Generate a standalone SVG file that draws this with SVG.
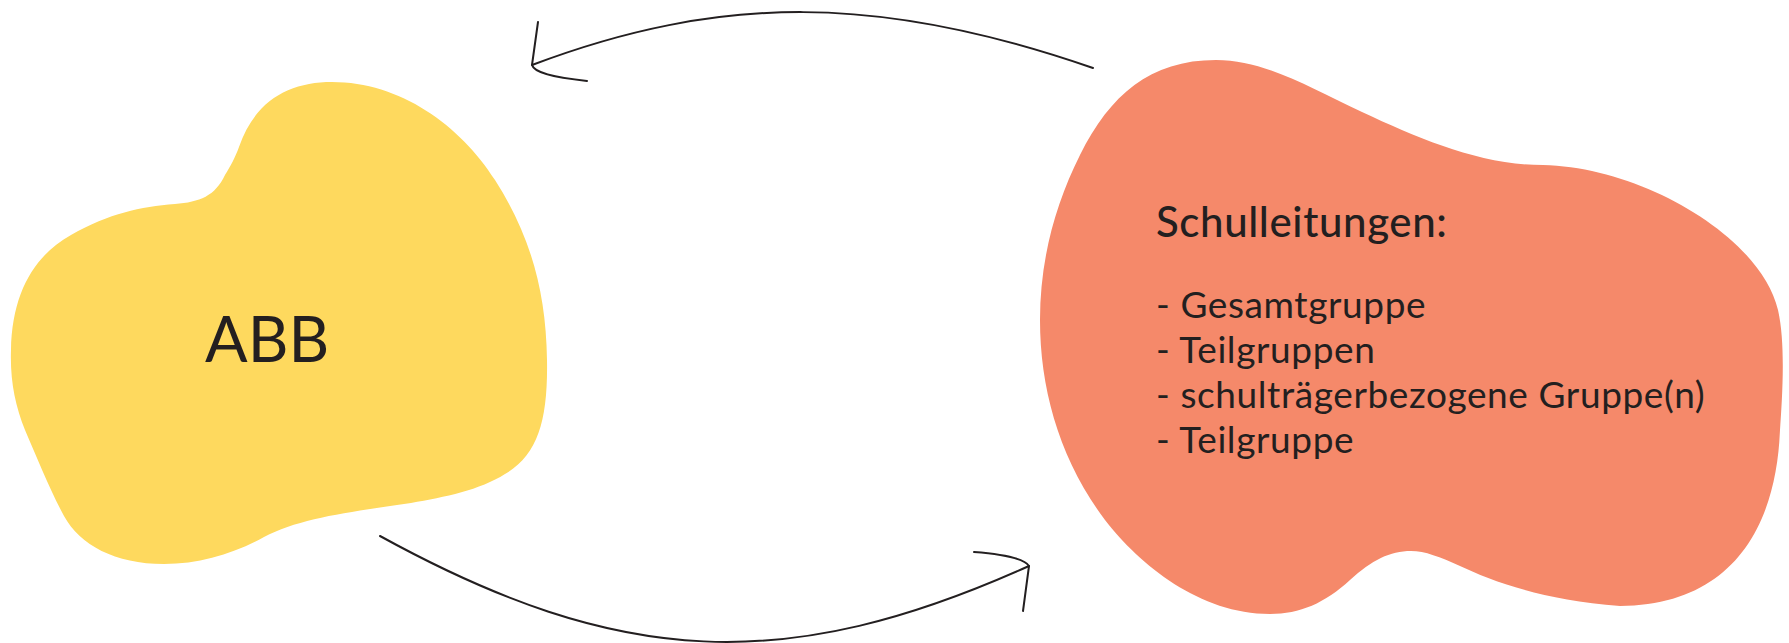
<svg xmlns="http://www.w3.org/2000/svg" width="1789" height="643" viewBox="0 0 1789 643">
<style>
.txt{font-family:Lato,"Open Sans","Liberation Sans",sans-serif;fill:#231F20}
.conn{fill:none;stroke:#231F20;stroke-width:2;stroke-linecap:round;stroke-linejoin:round}
</style>
<rect width="1789" height="643" fill="#FFFFFF"/>
<g id="node-abb">
<path fill="#FED95E" d="M 239,147 C 255,100 290,82 332,82 C 400,82 460,125 495,180 C 530,235 546,290 547,360 C 548,420 538,455 505,474 C 480,490 445,497 411,503 C 350,512 300,518 264,537 C 235,553 200,564 164,564 C 115,564 80,545 64,516 C 50,490 38,460 25,430 C 15,405 10,380 11,350 C 12,292 35,255 71,235 C 110,213 140,207 175,204 C 200,202 215,196 225,175 C 231,165 235,158 239,147 Z"/>
<text class="txt" x="205" y="362" font-size="63">ABB</text>
</g>
<g id="node-schulleitungen">
<path fill="#F5896A" d="M 1216,60 C 1265,60 1310,88 1362,112 C 1420,139 1480,165 1543,165 C 1640,167 1760,235 1778,310 C 1786,345 1782,400 1780,430 C 1776,530 1730,605 1620,606 C 1540,600 1490,580 1460,566 C 1440,557 1425,551 1411,551 C 1390,551 1372,560 1350,580 C 1325,603 1300,614 1270,614 C 1200,614 1140,565 1105,520 C 1060,460 1040,390 1040,320 C 1040,260 1055,205 1080,155 C 1110,95 1150,60 1216,60 Z"/>
<text class="txt" x="1156" y="237" font-size="42" font-weight="500" letter-spacing="0.6">Schulleitungen:</text>
<g font-size="37" letter-spacing="0.6">
<text class="txt" x="1156" y="318">- Gesamtgruppe</text>
<text class="txt" x="1156" y="363">- Teilgruppen</text>
<text class="txt" x="1156" y="408">- schulträgerbezogene Gruppe(n)</text>
<text class="txt" x="1156" y="453">- Teilgruppe</text>
</g>
</g>
<g id="connectors">
<g id="arrow-top">
<path class="conn" d="M 1093,68 C 880,-6 720,-6 532,65"/>
<path class="conn" d="M 538,22 L 532,65 C 534,72 550,77 587,81"/>
</g>
<g id="arrow-bottom">
<path class="conn" d="M 380,536 C 620,668 787,675 1029,566"/>
<path class="conn" d="M 974,552 C 1000,554 1024,558 1029,566 L 1023,611"/>
</g>
</g>
</svg>
